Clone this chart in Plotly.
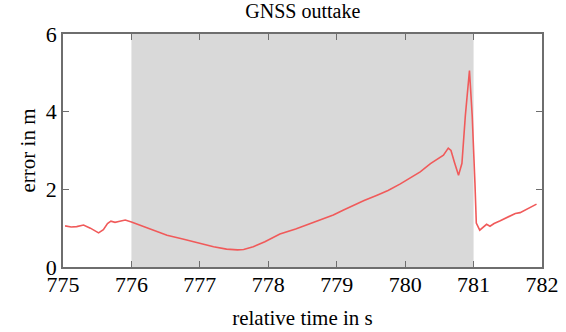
import plotly.graph_objects as go

time_s = [775.03, 775.12, 775.20, 775.30, 775.40, 775.52, 775.59, 775.65, 775.70, 775.76,
          775.83, 775.91, 776.00, 776.25, 776.52, 776.75, 777.00, 777.20, 777.39, 777.55,
          777.64, 777.78, 777.95, 778.17, 778.40, 778.61, 778.80, 778.95, 779.10, 779.24,
          779.40, 779.59, 779.75, 779.93, 780.10, 780.22, 780.37, 780.50, 780.56, 780.63,
          780.67, 780.72, 780.78, 780.83, 780.88, 780.94, 780.98, 781.02, 781.04, 781.09,
          781.14, 781.19, 781.24, 781.30, 781.39, 781.50, 781.61, 781.68, 781.80, 781.92]
error_m = [1.06, 1.03, 1.04, 1.08, 1.00, 0.88, 0.96, 1.12, 1.18, 1.15,
           1.18, 1.21, 1.16, 0.99, 0.82, 0.72, 0.61, 0.52, 0.46, 0.44,
           0.45, 0.52, 0.65, 0.85, 0.98, 1.12, 1.24, 1.34, 1.47, 1.59,
           1.71, 1.85, 1.97, 2.14, 2.32, 2.45, 2.66, 2.80, 2.88, 3.06,
           3.00, 2.70, 2.36, 2.67, 3.90, 5.06, 3.90, 2.16, 1.13, 0.95,
           1.02, 1.10, 1.05, 1.12, 1.19, 1.28, 1.38, 1.40, 1.50, 1.62]

outage_start = 776
outage_end = 781
x_ticks = [775, 776, 777, 778, 779, 780, 781, 782]
y_ticks = [0, 2, 4, 6]

FONT = "Liberation Serif, Times New Roman, serif"
AXIS_COLOR = "#6e6e6e"

fig = go.Figure()
fig.add_trace(go.Scatter(x=time_s, y=error_m, mode="lines",
                         line=dict(color="#f05a5a", width=1.6), showlegend=False))

fig.add_shape(type="rect", x0=outage_start, x1=outage_end, y0=0, y1=6,
              xref="x", yref="y", fillcolor="#d9d9d9", line=dict(width=0), layer="below")

fig.update_layout(
    width=566, height=332,
    margin=dict(l=63, r=24, t=34, b=65, autoexpand=False),
    paper_bgcolor="white", plot_bgcolor="white",
    font=dict(family=FONT, color="black"),
    title=dict(text="GNSS outtake", x=0.535, xanchor="center", y=0.968, yanchor="middle",
               font=dict(family=FONT, size=20, color="black")),
)
fig.update_xaxes(
    range=[775, 782], tickvals=x_ticks, ticks="inside", ticklen=6, tickcolor=AXIS_COLOR,
    tickwidth=1.2, showline=True, linecolor=AXIS_COLOR, linewidth=1.8, mirror="ticks",
    showgrid=False, zeroline=False, tickfont=dict(family=FONT, size=22, color="black"),
    ticklabelstandoff=-3, automargin=False,
    title=dict(text="relative time in s", font=dict(family=FONT, size=21), standoff=14),
)
fig.update_yaxes(
    range=[0, 6], tickvals=y_ticks, ticks="inside", ticklen=6, tickcolor=AXIS_COLOR,
    tickwidth=1.2, showline=True, linecolor=AXIS_COLOR, linewidth=1.8, mirror="ticks",
    showgrid=False, zeroline=False, tickfont=dict(family=FONT, size=22, color="black"),
    automargin=False,
    title=dict(text="error in m", font=dict(family=FONT, size=21), standoff=4),
)

fig.write_html("out.html")
